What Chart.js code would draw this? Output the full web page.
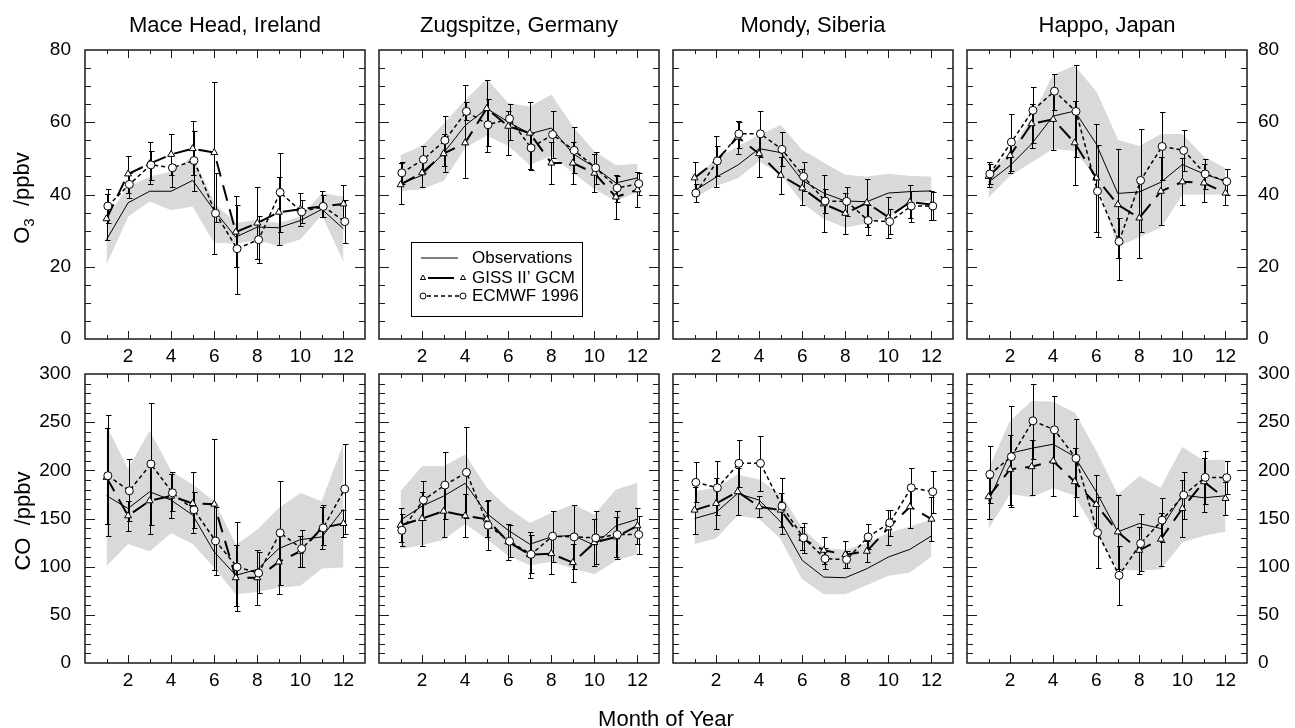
<!DOCTYPE html>
<html lang="en">
<head>
<meta charset="UTF-8">
<title>O3 and CO seasonal cycles</title>
<script src="https://cdn.jsdelivr.net/npm/chart.js@4.4.3/dist/chart.umd.min.js"></script>
<style>
  body { margin: 0; width: 1295px; height: 728px; position: relative; overflow: hidden; background: #fff;
         font-family: "Liberation Sans", Arial, Helvetica, sans-serif; }
  canvas { position: absolute; left: 0; top: 0; }
  .lbl { position: absolute; font-size: 22px; color: #000; white-space: nowrap; transform: translate(-50%, -50%); z-index: 5; }
  .ylbl { transform: translate(-50%, -50%) rotate(-90deg); }
  .ylbl sub { font-size: 15px; }
</style>
</head>
<body>
<script>
// ---- data ----
const months = [1, 2, 3, 4, 5, 6, 7, 8, 9, 10, 11, 12];
const stations = ['Mace Head, Ireland', 'Zugspitze, Germany', 'Mondy, Siberia', 'Happo, Japan'];

// O3 (ppbv), one row per station
const o3Obs = [
  [27.5, 37.7, 40.9, 40.9, 43.9, 35.6, 28.2, 31.0, 30.8, 32.8, 35.9, 30.5],
  [43, 45.3, 51.5, 59.1, 63.8, 60.1, 56.8, 58.4, 51.3, 47.6, 43.2, 44.6],
  [41, 44.8, 48.1, 52.7, 51.6, 43.9, 40.4, 38.2, 38, 40.4, 40.8, 41],
  [43.4, 48, 54, 61.7, 63.1, 54, 40.3, 40.7, 43.4, 48.3, 45.7, 43.7]
];
const o3BandLo = [
  [21, 34, 38.2, 35.8, 36.8, 26.8, 26.5, 27.5, 25.9, 27.7, 34.5, 21.7],
  [41.1, 41.6, 43.9, 53.1, 56.4, 53.6, 48.3, 50.8, 46.2, 41.6, 38.4, 40.7],
  [39.3, 42.5, 44.6, 49.3, 45.7, 37.9, 33.3, 31, 32.1, 34, 37.5, 38.5],
  [39.3, 45.3, 49, 52.8, 52.2, 44.8, 25.7, 28.3, 31, 40.1, 40.1, 40.1]
];
const o3BandHi = [
  [33.5, 42, 44.8, 46.2, 50.4, 37.5, 32, 32.8, 32, 33.7, 40.2, 39.3],
  [50.8, 53.3, 59.4, 66, 71.8, 65.2, 64.2, 67.5, 58.7, 51.8, 48, 48.3],
  [43.9, 49.9, 53.1, 56.4, 59.1, 52.2, 48.7, 45.3, 44.8, 45.6, 45, 44.8],
  [45.7, 51.7, 61, 73, 75.5, 68.4, 55, 53.3, 56.6, 56.6, 50.4, 47.1]
];
const o3Giss = [
  [33.3, 45.7, 48.5, 51.1, 52.7, 51.6, 29.6, 32.1, 35.1, 35.9, 36.7, 37.4],
  [42.7, 46, 51.3, 54.3, 63.8, 58.9, 57, 48.7, 48.7, 45.9, 39.3, 41.3],
  [44.6, 49.3, 55.9, 51.3, 45.3, 41.8, 37.4, 34.8, 37.7, 33.7, 37.9, 37.2],
  [45, 50.8, 59.6, 60.8, 54.3, 44.6, 37.2, 33.5, 40.9, 43.5, 43.2, 40.4]
];
const o3GissLo = [
  [27.3, 40.5, 43, 45.5, 45.3, 23.6, 19.9, 22.2, 25.9, 31.4, 33.7, 32.3],
  [37.4, 42.2, 47.8, 44.6, 51.9, 50.8, 47, 43, 43, 40.7, 33.3, 36.5],
  [40, 42.2, 51.3, 44.8, 40.2, 37, 29.6, 29.1, 31, 28, 33.5, 33],
  [42, 46, 53, 52.4, 42.5, 29.6, 22.5, 22.5, 31.5, 37.1, 38, 37.1]
];
const o3GissHi = [
  [40.2, 50.6, 54.5, 56.8, 60.3, 71.2, 39.5, 42.1, 44.8, 40.5, 41, 42.5],
  [48.7, 50, 56.8, 70.4, 71.8, 63, 65.6, 54.5, 54.5, 51.2, 45.3, 46.2],
  [49, 56.2, 60.4, 57.5, 50.5, 47, 45.3, 40.5, 44.4, 39.3, 42.5, 41],
  [49, 55, 65, 69, 66, 59.6, 52.7, 44.5, 50.3, 50, 48.4, 43.7]
];
const o3Ecmwf = [
  [36.8, 42.8, 48.2, 47.4, 49.4, 34.8, 25, 27.5, 40.6, 35.2, 36.7, 32.5],
  [46, 49.7, 55, 63, 59.3, 61, 52.9, 56.6, 52.2, 47.4, 41.8, 43],
  [40.4, 49.3, 56.8, 56.8, 52.5, 45, 38.2, 38.1, 32.8, 32.5, 36.8, 36.8],
  [45.7, 54.5, 63.3, 68.6, 63, 40.9, 27, 43.9, 53.3, 52.2, 45.7, 43.6]
];
const o3EcmwfLo = [
  [32, 39, 44, 42.2, 41, 32.3, 12.5, 21, 29.7, 32, 33.9, 26.5],
  [43, 46, 46.2, 60.5, 53.4, 55, 46.7, 50, 46, 43, 38, 40],
  [37.9, 45, 53, 50.5, 48, 41, 35, 34, 28.7, 29, 32.5, 33],
  [43, 46.5, 54.3, 63.5, 50.4, 28.2, 16.4, 29.5, 44, 46.5, 41.5, 40]
];
const o3EcmwfHi = [
  [41.4, 46, 52, 48.5, 57.6, 45.9, 37.2, 34, 51.5, 38.5, 40, 38.5],
  [49, 53.3, 61.6, 65.5, 66.5, 65, 57, 63.1, 58.7, 51.8, 45, 46],
  [43, 53.5, 60, 63.1, 57.3, 49, 41.5, 42.1, 37, 36, 41, 40.7],
  [48.5, 62.4, 69.7, 73.3, 75.8, 53.6, 33.5, 58.2, 62.7, 57.9, 49.9, 47.1]
];

// CO (ppbv)
const coObs = [
  [173.6, 160.4, 177.8, 169.1, 153.5, 115.3, 91, 97.2, 118.8, 128.1, 130.9, 159.7],
  [148.3, 162.8, 173.3, 186.5, 155.2, 137.8, 123.3, 130.9, 132.6, 122.2, 142.4, 149.3],
  [150, 156.3, 176, 169.1, 146.5, 106.6, 89.2, 88.5, 97.9, 110, 118, 131.9],
  [168, 217.7, 222.9, 227.1, 214.2, 177.8, 136.1, 144.8, 139.6, 174.3, 171.5, 173.6]
];
const coBandLo = [
  [101.4, 124, 116.3, 135.4, 124, 99.7, 71.9, 74.3, 78.8, 80.6, 98.6, 99.7],
  [118.8, 122.9, 128.5, 144.8, 129.2, 111.8, 102, 105.6, 98.6, 92.7, 106.6, 113.5],
  [124, 129.9, 153.5, 150, 129.2, 87.5, 71.9, 71.9, 81.3, 91, 94.4, 111.1],
  [140.3, 176, 172.6, 181.9, 174.3, 136.1, 97.9, 96.2, 97.9, 125.7, 132.6, 136.8]
];
const coBandHi = [
  [245.5, 200.3, 240.3, 198.6, 184.7, 167.4, 122.2, 137.8, 160.4, 176, 167.4, 226.4],
  [177.8, 203.8, 203.8, 216, 181.3, 160.4, 144.8, 155.2, 163.9, 153.5, 179.5, 186.5],
  [177.8, 181.3, 195.1, 189.9, 174.3, 139.6, 118.8, 117, 124, 134.4, 141.3, 148.3],
  [200, 250.7, 271.5, 270.8, 259.4, 219.4, 174.3, 193.4, 181.3, 223.6, 209.7, 210.8]
];
const coGiss = [
  [192.7, 152.8, 168.4, 173.3, 165.6, 164.9, 88.5, 88.5, 104.9, 116, 140.3, 144.8],
  [143, 150, 157.6, 152.8, 149.3, 125.7, 112.5, 113.5, 104.2, 125, 130.9, 142.4],
  [158.7, 165.6, 177.8, 162.2, 158.7, 129.2, 117, 112.5, 116, 140.3, 162.2, 149.3],
  [172.6, 201, 203.8, 209.7, 188.2, 164.6, 136.1, 117, 128.5, 160.4, 188.2, 170.8]
];
const coGissLo = [
  [144.8, 136.8, 133.7, 150.7, 135, 97, 59, 60.4, 71.9, 99.7, 118.8, 130.9],
  [126, 121.5, 130.9, 130.9, 130.6, 106.6, 88.5, 92.7, 84, 100.7, 110, 124],
  [134.4, 138.9, 153.5, 152, 141, 117, 103, 99, 104.9, 122.2, 140.3, 126.4],
  [150, 164, 174.3, 173.6, 152.8, 134, 98, 92.7, 100.7, 130.9, 157, 153.5]
];
const coGissHi = [
  [243.8, 168, 203, 196, 197.9, 232.3, 122, 117, 137.8, 132, 161.8, 158.7],
  [161.1, 178, 184, 175, 168, 144.8, 136.5, 134, 124, 149, 152, 161.1],
  [183, 192, 202, 173, 176, 141.5, 130.9, 126.4, 127, 158.7, 184, 172],
  [192, 237, 232, 245, 223, 195, 174.3, 141, 156, 190, 213, 188]
];
const coEcmwf = [
  [194.4, 178.8, 206.6, 176.7, 159, 126.7, 99.7, 93.4, 135.1, 118.8, 140.3, 180.6],
  [137.8, 169.1, 184.7, 197.9, 143, 126.4, 112.8, 131.6, 130.9, 129.9, 133.3, 133.3],
  [187.5, 181.9, 207.3, 207.3, 162.8, 129.9, 108.3, 107.3, 130.9, 145.5, 181.9, 177.8],
  [195.8, 214.2, 251.4, 242, 212.5, 135.4, 91, 124, 148.3, 174.3, 192.7, 192.4]
];
const coEcmwfLo = [
  [131.9, 147, 143, 158, 140, 91, 53.5, 73, 81, 100, 123, 134],
  [121.5, 148, 150, 150.3, 117, 110, 93, 105, 98, 103, 108.3, 113.5],
  [167, 154, 183, 179, 134, 114, 97.2, 98.6, 118, 132, 161, 156],
  [166, 162, 212, 208, 172, 99, 60.4, 95, 126, 150, 165, 175]
];
const coEcmwfHi = [
  [257, 211.5, 269.8, 197.9, 178, 162, 146.5, 115, 188.9, 137.8, 163.9, 227.1],
  [155, 188.9, 219.4, 245.5, 169, 143, 133, 158, 163.9, 157.6, 158, 153],
  [208.3, 210, 231.6, 235.8, 191.7, 145.8, 119, 116, 143.8, 158.7, 202.8, 199.3],
  [225.7, 266.3, 289.6, 276.7, 253.5, 172, 121.6, 155, 171.5, 198.6, 220.1, 209.7]
];

// ---- layout ----
const W = 1295, H = 728;
const FONT = '"Liberation Sans", Arial, Helvetica, sans-serif';
const panelX = [85, 379, 673, 967];
const panelW = 280;
const rowY = [50, 374];
const panelH = 289;
const EC_DX = 0.06; // ECMWF symbols sit a touch right of the month

Chart.defaults.font.family = FONT;

const rows = [
  { max: 80, step: 20, minor: 5, obs: o3Obs, lo: o3BandLo, hi: o3BandHi,
    giss: o3Giss, gissLo: o3GissLo, gissHi: o3GissHi, ec: o3Ecmwf, ecLo: o3EcmwfLo, ecHi: o3EcmwfHi },
  { max: 300, step: 50, minor: 10, obs: coObs, lo: coBandLo, hi: coBandHi,
    giss: coGiss, gissLo: coGissLo, gissHi: coGissHi, ec: coEcmwf, ecLo: coEcmwfLo, ecHi: coEcmwfHi }
];

// frame + inward ticks on all four sides
function frameTicks(major, minor) {
  return {
    id: 'frameTicks',
    afterDatasetsDraw(chart) {
      const { ctx, chartArea: a, scales: { x, y } } = chart;
      ctx.save();
      ctx.strokeStyle = '#1a1a1a';
      ctx.lineWidth = 1;
      ctx.beginPath();
      months.forEach(m => {
        const px = Math.round(x.getPixelForValue(m)) + 0.5;
        const len = m % 2 ? 4 : 8;
        ctx.moveTo(px, a.bottom); ctx.lineTo(px, a.bottom - len);
        ctx.moveTo(px, a.top); ctx.lineTo(px, a.top + len);
      });
      for (let v = y.min + minor; v < y.max; v += minor) {
        const py = Math.round(y.getPixelForValue(v)) + 0.5;
        const len = v % major ? 6 : 10;
        ctx.moveTo(a.left, py); ctx.lineTo(a.left + len, py);
        ctx.moveTo(a.right, py); ctx.lineTo(a.right - len, py);
      }
      ctx.stroke();
      ctx.lineWidth = 1.5;
      ctx.strokeRect(a.left, a.top, a.right - a.left, a.bottom - a.top);
      ctx.restore();
    }
  };
}

// error bars, drawn just after the observations line so symbols stay on top
function errorBars(sets) {
  return {
    id: 'errorBars',
    afterDatasetDraw(chart, args) {
      if (args.index !== 2) return;
      const { ctx, scales: { x, y } } = chart;
      ctx.save();
      ctx.strokeStyle = '#000';
      ctx.lineWidth = 1;
      ctx.beginPath();
      sets.forEach(s => {
        months.forEach((m, i) => {
          const px = Math.round(x.getPixelForValue(m + s.dx)) + 0.5;
          const y1 = Math.round(y.getPixelForValue(s.lo[i])) + 0.5;
          const y2 = Math.round(y.getPixelForValue(s.hi[i])) + 0.5;
          ctx.moveTo(px, y1); ctx.lineTo(px, y2);
          ctx.moveTo(px - 2.5, y1); ctx.lineTo(px + 3, y1);
          ctx.moveTo(px - 2.5, y2); ctx.lineTo(px + 3, y2);
        });
      });
      ctx.stroke();
      ctx.restore();
    }
  };
}

// legend box inside the Zugspitze O3 panel
const legendBox = {
  id: 'legendBox',
  afterDraw(chart) {
    const { ctx, chartArea: a } = chart;
    const bx = a.left + 32, by = a.top + 192, bw = 171, bh = 74;
    const x0 = bx + 12, x1 = bx + 52, tx = bx + 61;
    const ys = [by + 16, by + 36, by + 54];
    ctx.save();
    ctx.fillStyle = '#fff';
    ctx.fillRect(bx, by, bw, bh);
    ctx.strokeStyle = '#000';
    ctx.lineWidth = 1;
    ctx.strokeRect(bx + 0.5, by + 0.5, bw, bh);

    ctx.beginPath();
    ctx.moveTo(bx + 10, ys[0]); ctx.lineTo(bx + 47, ys[0]);
    ctx.stroke();

    ctx.lineWidth = 2;
    ctx.beginPath();
    ctx.moveTo(x0 + 5, ys[1]); ctx.lineTo(x0 + 31, ys[1]);
    ctx.stroke();

    ctx.lineWidth = 1.5;
    ctx.setLineDash([4, 3]);
    ctx.beginPath();
    ctx.moveTo(x0 + 4, ys[2]); ctx.lineTo(x1 - 4, ys[2]);
    ctx.stroke();
    ctx.setLineDash([]);

    ctx.fillStyle = '#fff';
    ctx.lineWidth = 1;
    [x0, x1].forEach(px => {
      Chart.helpers.drawPoint(ctx, { pointStyle: 'triangle', radius: 3, borderWidth: 1, rotation: 0 }, px, ys[1]);
      Chart.helpers.drawPoint(ctx, { pointStyle: 'circle', radius: 3, borderWidth: 1, rotation: 0 }, px, ys[2]);
    });

    ctx.fillStyle = '#000';
    ctx.font = '17px ' + FONT;
    ctx.textBaseline = 'middle';
    ctx.fillText('Observations', tx, ys[0]);
    ctx.fillText('GISS II\u2019 GCM', tx, ys[1]);
    ctx.fillText('ECMWF 1996', tx, ys[2]);
    ctx.restore();
  }
};

function makePanel(r, c) {
  const row = rows[r];
  const L = panelX[c], R = L + panelW, T = rowY[r], B = T + panelH;
  const leftLab = c === 0, rightLab = c === 3;
  const yW = 70, xH = 40;

  const cv = document.createElement('canvas');
  cv.width = W;
  cv.height = H;
  document.body.appendChild(cv);

  const pts = (arr, dx) => months.map((m, i) => ({ x: m + (dx || 0), y: arr[c][i] }));
  const plugins = [
    errorBars([
      { lo: row.gissLo[c], hi: row.gissHi[c], dx: 0 },
      { lo: row.ecLo[c], hi: row.ecHi[c], dx: EC_DX }
    ]),
    frameTicks(row.step, row.minor)
  ];
  if (r === 0 && c === 1) plugins.push(legendBox);

  new Chart(cv, {
    type: 'line',
    data: {
      datasets: [
        { label: 'ECMWF 1996', data: pts(row.ec, EC_DX), borderColor: '#000', borderWidth: 1.5,
          borderDash: [4, 3], pointStyle: 'circle', pointRadius: 4, pointBackgroundColor: '#fff',
          pointBorderColor: '#000', pointBorderWidth: 1, fill: false },
        { label: 'GISS II\u2019 GCM', data: pts(row.giss), borderColor: '#000', borderWidth: 2,
          borderDash: [16, 9], pointStyle: 'triangle', pointRadius: 4, pointBackgroundColor: '#fff',
          pointBorderColor: '#000', pointBorderWidth: 1, fill: false },
        { label: 'Observations', data: pts(row.obs), borderColor: '#000', borderWidth: 1,
          pointRadius: 0, fill: false },
        { label: 'range high', data: pts(row.hi), borderColor: '#d9d9d9', borderWidth: 1,
          backgroundColor: '#d9d9d9', pointRadius: 0, fill: '+1' },
        { label: 'range low', data: pts(row.lo), borderColor: '#d9d9d9', borderWidth: 1,
          pointRadius: 0, fill: false }
      ]
    },
    plugins: plugins,
    options: {
      responsive: false,
      animation: false,
      devicePixelRatio: 1,
      events: [],
      layout: {
        padding: {
          left: leftLab ? L - yW : L,
          right: rightLab ? W - R - yW : W - R,
          top: T,
          bottom: H - B - xH
        }
      },
      plugins: { legend: { display: false }, tooltip: { enabled: false } },
      scales: {
        x: {
          type: 'linear', min: 0, max: 13,
          grid: { display: false, drawTicks: false },
          border: { display: false },
          ticks: {
            stepSize: 1, autoSkip: false, maxRotation: 0, padding: 6, color: '#000',
            font: { size: 19 },
            callback: v => (v > 0 && v < 13 && v % 2 === 0) ? v : ''
          },
          afterFit: s => { s.height = xH; }
        },
        y: {
          type: 'linear', min: 0, max: row.max,
          display: leftLab || rightLab,
          position: rightLab ? 'right' : 'left',
          grid: { display: false, drawTicks: false },
          border: { display: false },
          ticks: { stepSize: row.step, padding: rightLab ? 11 : 14, color: '#000', font: { size: 19 } },
          afterFit: s => { s.width = (leftLab || rightLab) ? yW : 0; }
        }
      }
    }
  });
}

for (let r = 0; r < 2; r++) {
  for (let c = 0; c < 4; c++) makePanel(r, c);
}

// text labels
function addLabel(html, x, y, cls) {
  const d = document.createElement('div');
  d.className = 'lbl' + (cls ? ' ' + cls : '');
  d.style.left = x + 'px';
  d.style.top = y + 'px';
  d.innerHTML = html;
  document.body.appendChild(d);
}
stations.forEach((s, c) => addLabel(s, panelX[c] + panelW / 2, 25));
addLabel('O<sub>3</sub>&nbsp; /ppbv', 23, 198, 'ylbl');
addLabel('CO&nbsp; /ppbv', 23, 521, 'ylbl');
addLabel('Month of Year', 666, 719);
</script>
</body>
</html>
